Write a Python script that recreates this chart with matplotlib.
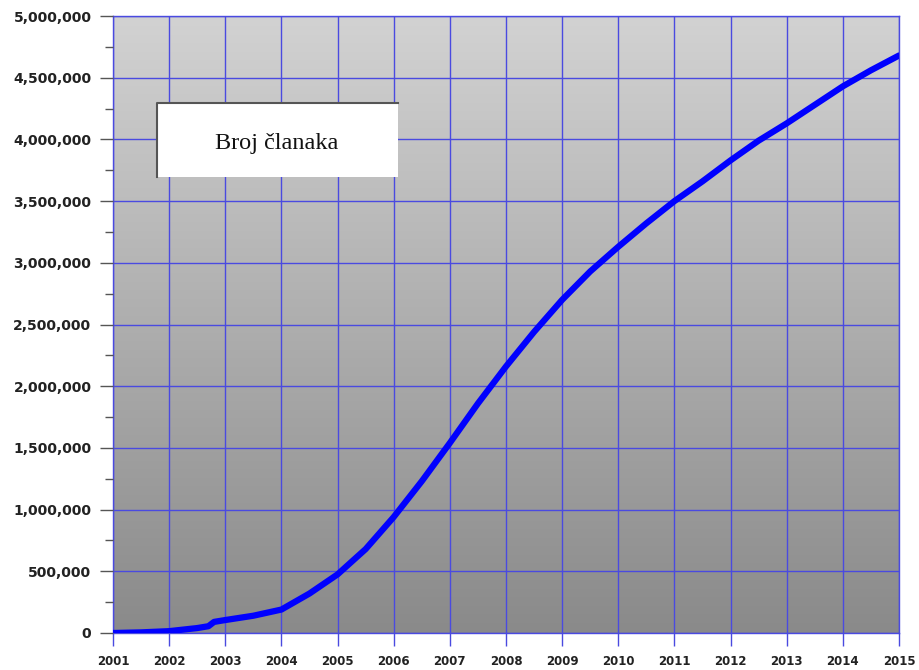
import numpy as np
import matplotlib
matplotlib.use("Agg")
import matplotlib.pyplot as plt
from matplotlib.ticker import FuncFormatter, MultipleLocator
from matplotlib.patches import Rectangle
from matplotlib.lines import Line2D
from matplotlib.colors import LinearSegmentedColormap

# Data
years = [2001.0, 2001.5, 2002.0, 2002.5, 2002.7, 2002.8, 2003.0, 2003.5, 2004.0,
         2004.5, 2005.0, 2005.5, 2006.0, 2006.5, 2007.0, 2007.5, 2008.0, 2008.5,
         2009.0, 2009.5, 2010.0, 2010.5, 2011.0, 2011.5, 2012.0, 2012.5, 2013.0,
         2013.5, 2014.0, 2014.5, 2015.0]
articles = [0, 5000, 15000, 40000, 55000, 90000, 105000, 140000, 190000,
            320000, 475000, 680000, 940000, 1230000, 1540000, 1860000, 2160000, 2440000,
            2700000, 2930000, 3130000, 3320000, 3500000, 3660000, 3830000, 3990000, 4130000,
            4280000, 4430000, 4560000, 4680000]
x_ticks = list(range(2001, 2016))
legend_label = "Broj članaka"

fig = plt.figure(figsize=(9.19, 6.70), dpi=100)
ax = fig.add_axes([113/919, 37/670, 786/919, 617/670])

# gradient background
grad = np.linspace(0, 1, 256).reshape(-1, 1)
cmap = LinearSegmentedColormap.from_list("bg", ["#d2d2d2", "#8a8a8a"])
ax.imshow(grad, extent=[0, 1, 0, 1], transform=ax.transAxes, cmap=cmap,
          aspect="auto", origin="upper", zorder=0)

ax.plot(years, articles, color="#0000ff", lw=4.5, solid_capstyle="round",
        solid_joinstyle="round", zorder=3)

ax.set_xlim(2001, 2015)
ax.set_ylim(0, 5000000)
ax.set_xticks(x_ticks)
ax.yaxis.set_major_locator(MultipleLocator(500000))
ax.yaxis.set_minor_locator(MultipleLocator(250000))
ax.yaxis.set_major_formatter(FuncFormatter(lambda v, p: f"{int(v):,}"))

grid_col = "#4a4ae0"
ax.grid(True, which="major", color=grid_col, lw=1.0, zorder=1)
ax.set_axisbelow(False)
for s in ax.spines.values():
    s.set_color(grid_col)
    s.set_linewidth(1.0)

ax.tick_params(axis="y", which="major", length=9.5, width=1.0, color="#555555",
               pad=6, labelsize=10, labelcolor="#222222")
ax.tick_params(axis="y", which="minor", length=5.5, width=1.0, color="#555555")
ax.tick_params(axis="x", which="major", length=9, width=1.0, color=grid_col,
               pad=7, labelsize=8.5, labelcolor="#222222")
for lab in ax.get_xticklabels() + ax.get_yticklabels():
    lab.set_fontweight("bold")
    lab.set_family("DejaVu Sans")

# legend-like box
bx0, by0 = 157/919, (670-177)/670
bw, bh = (398-157)/919, (177-103)/670
fig.patches.append(Rectangle((bx0, by0), bw, bh, transform=fig.transFigure,
                             facecolor="white", edgecolor="none", zorder=5))
fig.lines.append(Line2D([bx0, bx0, bx0 + bw], [by0, by0 + bh, by0 + bh],
                        transform=fig.transFigure, color="#555555", lw=1.5, zorder=6))
fig.text(277/919, (670-143)/670, legend_label, family="Liberation Serif",
         fontsize=17.5, ha="center", va="center", color="#111111", zorder=7)

fig.savefig("out.png", dpi=100)
